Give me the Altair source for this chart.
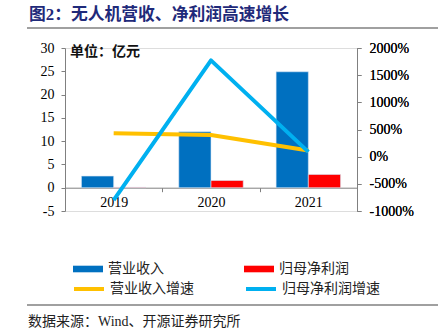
import altair as alt
import pandas as pd

years = ["2019", "2020", "2021"]
revenue = [2.5, 12.0, 24.9]          # 营业收入 (亿元)
net_profit = [0.08, 1.55, 2.85]      # 归母净利润 (亿元)
rev_growth = [431, 398, 112]         # 营业收入增速 (%)
np_growth = [-800, 1772, 88]         # 归母净利润增速 (%)

bar_series = ["营业收入", "归母净利润"]
line_series = ["营业收入增速", "归母净利润增速"]
left_ticks = [-5, 0, 5, 10, 15, 20, 25, 30]
right_ticks = [-1000, -500, 0, 500, 1000, 1500, 2000]

title_text = "图2：无人机营收、净利润高速增长"
unit_text = "单位：亿元"
source_text = "数据来源：Wind、开源证券研究所"

W, H = 292, 163
SERIF = "Liberation Serif, Noto Sans CJK SC"
CJK = "Noto Sans CJK SC"
GRAY = "#808080"

bars_df = pd.DataFrame({
    "year": years * 2,
    "series": [bar_series[0]] * 3 + [bar_series[1]] * 3,
    "value": revenue + net_profit,
})
rev_df = pd.DataFrame({"year": years, "series": line_series[0], "value": rev_growth})
np_df = pd.DataFrame({"year": years, "series": line_series[1], "value": np_growth})

x_enc = alt.X(
    "year:N",
    sort=years,
    scale=alt.Scale(paddingInner=0, paddingOuter=0),
    axis=alt.Axis(
        title=None, labelAngle=0, offset=-23.3, domainColor=GRAY, tickColor=GRAY,
        tickSize=4, tickBand="extent", labelFont=SERIF, labelFontSize=14,
        labelColor="black", labelPadding=4,
    ),
)

bars = alt.Chart(bars_df).mark_bar(stroke="#D6E6F5", strokeWidth=0.6).encode(
    x=x_enc,
    xOffset=alt.XOffset("series:N", sort=bar_series,
                        scale=alt.Scale(paddingOuter=0.51, paddingInner=0)),
    y=alt.Y("value:Q", scale=alt.Scale(domain=[-5, 30], nice=False, zero=False),
            axis=alt.Axis(title=None, values=left_ticks, grid=False, domainColor=GRAY,
                          tickColor=GRAY, tickSize=4, labelPadding=7, labelFont=SERIF,
                          labelFontSize=14, labelColor="black",
                          labelExpr="'' + datum.value")),
    fill=alt.Fill("series:N",
                  scale=alt.Scale(domain=bar_series, range=["#0070C0", "#FF0000"]),
                  legend=alt.Legend(orient="none", legendX=8, legendY=206,
                                    direction="horizontal", columns=2, columnPadding=80,
                                    symbolType="M-1,-0.22H1V0.22H-1Z", symbolSize=900,
                                    symbolStrokeWidth=0, labelFont=CJK, labelFontSize=14,
                                    labelColor="#222222", labelOffset=5, title=None,
                                    padding=0)),
)

right_y = alt.Y("value:Q", scale=alt.Scale(domain=[-1000, 2000], nice=False, zero=False),
                axis=alt.Axis(title=None, orient="right", values=right_ticks, grid=False,
                              domainColor=GRAY, tickColor=GRAY, tickSize=4, labelPadding=8,
                              labelFont=SERIF, labelFontSize=14, labelColor="black",
                              labelExpr="datum.value + '%'"))
stroke_enc = alt.Stroke("series:N",
                        scale=alt.Scale(domain=line_series, range=["#FFC000", "#00B0F0"]),
                        legend=alt.Legend(orient="none", legendX=7, legendY=224,
                                          direction="horizontal", columns=2, columnPadding=44,
                                          symbolType="stroke", symbolSize=900,
                                          symbolStrokeWidth=4, labelFont=CJK,
                                          labelFontSize=14, labelColor="#222222",
                                          labelOffset=4, title=None, padding=0))

line_rev = alt.Chart(rev_df).mark_line(strokeWidth=4, strokeJoin="round").encode(
    x=x_enc, y=right_y, stroke=stroke_enc)
line_np = alt.Chart(np_df).mark_line(strokeWidth=4, strokeJoin="round").encode(
    x=x_enc, y=right_y, stroke=stroke_enc)

def label(text, x, y, size, color, weight="normal", font=CJK):
    return alt.Chart(pd.DataFrame({"t": [text]})).mark_text(
        align="left", baseline="middle", fontSize=size, fontWeight=weight,
        font=font, color=color).encode(x=alt.value(x), y=alt.value(y), text="t:N")

title = label(title_text, -36, -33, 16.8, "#1F2A7A", "bold", SERIF)
unit = label(unit_text, 5, 4, 14, "#111111", "bold")
source = label(source_text, -37, 273.5, 14, "#222222", "normal", SERIF)

def hrule(y):
    return alt.Chart(pd.DataFrame({"a": [0]})).mark_rule(color=GRAY, strokeWidth=1.5).encode(
        x=alt.value(-38), x2=alt.value(373), y=alt.value(y))

chart = alt.layer(
    bars, line_rev, line_np, unit, title, source, hrule(-20), hrule(257)
).resolve_scale(y="independent").properties(
    width=W, height=H,
    autosize=alt.AutoSizeParams(type="none"),
    padding={"left": 65, "top": 48, "right": 88, "bottom": 125},
).configure_view(stroke=None).configure(background="white")

chart.save("out.html", embed_options={"renderer": "svg", "actions": False})
